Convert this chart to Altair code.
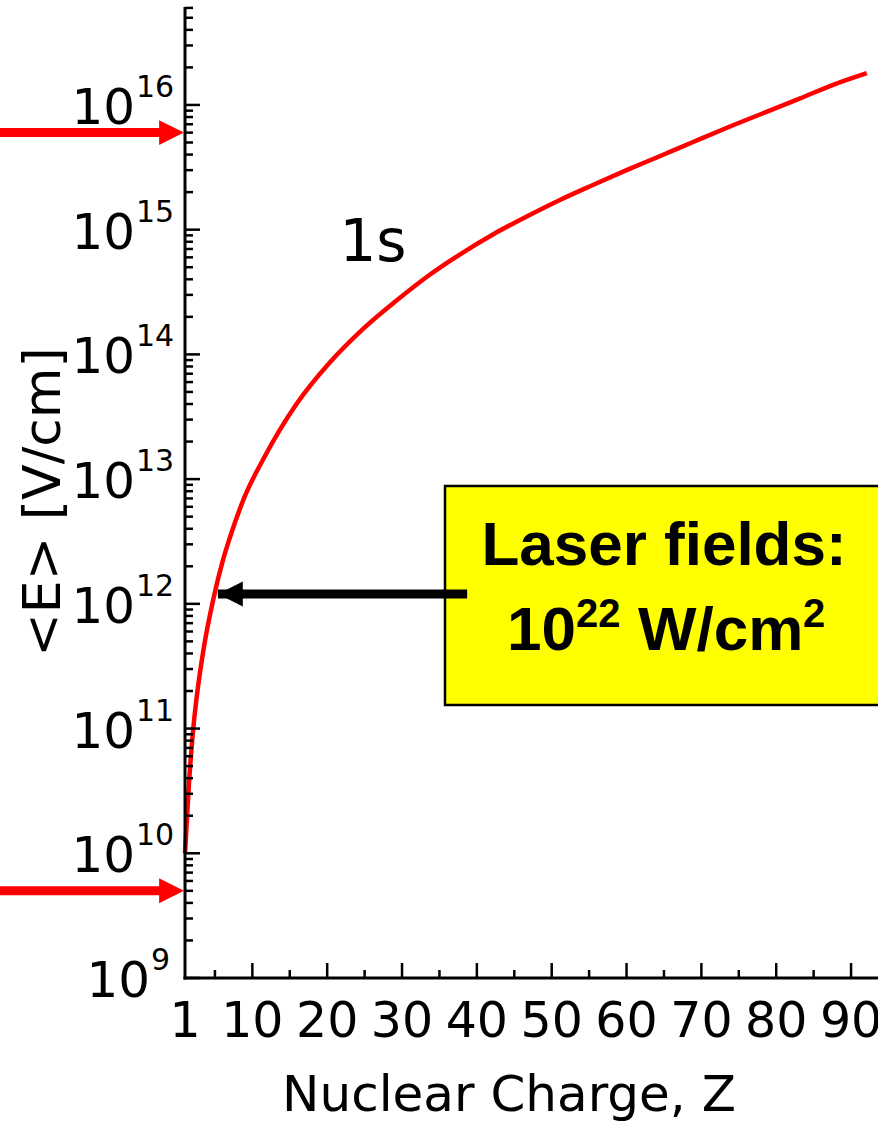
import altair as alt
import pandas as pd

# ---- data ----
Z_vals = [1, 1.5, 2.07, 2.52, 3.5, 4.74, 6.08, 7.0, 9.0, 11.47, 15.9, 20.35, 24.8,
          29.26, 33.7, 37.5, 42.2, 46.6, 51.1, 55.5, 60.0, 64.5, 68.9, 74.3, 78.7,
          83.2, 87.6, 92.1]
E_vals = [1.0e10, 3.4e10, 9.5e10, 1.7e11, 4.4e11, 1.06e12, 2.25e12, 3.4e12, 7.3e12,
          1.45e13, 4.0e13, 8.6e13, 1.6e14, 2.7e14, 4.35e14, 6.2e14, 9.2e14, 1.27e15,
          1.73e15, 2.28e15, 3.0e15, 3.9e15, 5.05e15, 6.9e15, 8.8e15, 1.13e16, 1.45e16,
          1.8e16]

y_major_vals = [1e9, 1e10, 1e11, 1e12, 1e13, 1e14, 1e15, 1e16]
y_major_exp = ["9", "10", "11", "12", "13", "14", "15", "16"]
y_minor_vals = [k * 10.0 ** n for n in range(9, 17) for k in range(2, 10) if k * 10.0 ** n <= 6.1e16]
x_major_vals = [10, 20, 30, 40, 50, 60, 70, 80, 90]
x_minor_vals = [5, 15, 25, 35, 45, 55, 65, 75, 85]
x_label_vals = [1, 10, 20, 30, 40, 50, 60, 70, 80, 90]
red_arrow_E = [6.0e15, 5.0e9]
laser_E = [1.2e12]
laser_Z_tip = [5.4]
laser_Z_tail = [38.7]

W, H = 693, 971
xs = alt.Scale(domain=[1, 93.6], nice=False, zero=False)
ys = alt.Scale(type="log", domain=[1e9, 6.1e16], nice=False)
FONT = "DejaVu Sans"
ARROW_LEFT = "M 0 0 L 2 -1 L 2 1 Z"
ARROW_RIGHT = "M 0 0 L -2 -1 L -2 1 Z"

curve_df = pd.DataFrame({"Z": Z_vals, "E": E_vals})
ymaj_df = pd.DataFrame({"E": y_major_vals, "exp": y_major_exp})
ymin_df = pd.DataFrame({"E": y_minor_vals})
xmaj_df = pd.DataFrame({"Z": x_major_vals})
xmin_df = pd.DataFrame({"Z": x_minor_vals})
xlab_df = pd.DataFrame({"Z": x_label_vals, "lab": [str(v) for v in x_label_vals]})
red_df = pd.DataFrame({"E": red_arrow_E})
laser_df = pd.DataFrame({"E": laser_E, "Z": laser_Z_tip, "Z2": laser_Z_tail})

X = lambda f: alt.X(f, type="quantitative", scale=xs, axis=None)
Y = lambda f: alt.Y(f, type="quantitative", scale=ys, axis=None)
one = pd.DataFrame({"a": [0]})

# yellow box
box = alt.Chart(one).mark_rect(
    fill="#ffff00", stroke="black", strokeWidth=2.5
).encode(x=alt.value(260), x2=alt.value(705), y=alt.value(479), y2=alt.value(698))

curve = alt.Chart(curve_df).mark_line(
    color="#ff0000", strokeWidth=4.5, interpolate="monotone"
).encode(x=X("Z"), y=Y("E"))

# axes lines
yaxis = alt.Chart(one).mark_rule(color="black", strokeWidth=3).encode(
    x=alt.value(0), y=alt.value(0), y2=alt.value(H + 1.5))
xaxis = alt.Chart(one).mark_rule(color="black", strokeWidth=3).encode(
    y=alt.value(H), x=alt.value(-1.5), x2=alt.value(W + 10))

ymaj = alt.Chart(ymaj_df).mark_rule(color="black", strokeWidth=2.5).encode(
    y=Y("E"), x=alt.value(0), x2=alt.value(15))
ymin = alt.Chart(ymin_df).mark_rule(color="black", strokeWidth=2.5).encode(
    y=Y("E"), x=alt.value(0), x2=alt.value(8))
xmaj = alt.Chart(xmaj_df).mark_rule(color="black", strokeWidth=2.5).encode(
    x=X("Z"), y=alt.value(H), y2=alt.value(H - 15))
xmin = alt.Chart(xmin_df).mark_rule(color="black", strokeWidth=2.5).encode(
    x=X("Z"), y=alt.value(H), y2=alt.value(H - 8))

# y tick labels: "10" + superscript exponent
ylab_base = alt.Chart(ymaj_df).transform_calculate(
    shift="length(datum.exp) == 1 ? 15 : 0",
    px10="-50 + datum.shift",
    pxexp="-49 + datum.shift",
    base="'10'",
)
ylab10 = ylab_base.mark_text(font=FONT, fontSize=50, align="right", baseline="alphabetic",
                             dy=19, color="black").encode(
    y=Y("E"), x=alt.X("px10:Q", scale=None), text="base:N")
ylabexp = ylab_base.mark_text(font=FONT, fontSize=30, align="left", baseline="alphabetic",
                              dy=-8, color="black").encode(
    y=Y("E"), x=alt.X("pxexp:Q", scale=None), text="exp:N")

xlab = alt.Chart(xlab_df).mark_text(font=FONT, fontSize=49, align="center",
                                    baseline="alphabetic", color="black").encode(
    x=X("Z"), y=alt.value(H + 59), text="lab:N")

xtitle = alt.Chart(pd.DataFrame({"t": ["Nuclear Charge, Z"]})).mark_text(
    font=FONT, fontSize=50, align="center", baseline="alphabetic", color="black"
).encode(x=alt.value(324), y=alt.value(1104), text="t:N")

ytitle = alt.Chart(pd.DataFrame({"t": ["<E>  [V/cm]"]})).mark_text(
    font=FONT, fontSize=52, align="center", baseline="alphabetic", angle=270, color="black"
).encode(x=alt.value(-125), y=alt.value(495), text="t:N")

label1s = alt.Chart(pd.DataFrame({"t": ["1s"]})).mark_text(
    font=FONT, fontSize=58, align="center", baseline="alphabetic", color="black"
).encode(x=alt.value(188), y=alt.value(254), text="t:N")

# red arrows (outside plot on the left)
red_shaft = alt.Chart(red_df).mark_rule(color="#ff0000", strokeWidth=9).encode(
    y=Y("E"), x=alt.value(-190), x2=alt.value(-20))
red_head = alt.Chart(red_df).mark_point(
    shape=ARROW_RIGHT, size=620, filled=True, color="#ff0000", opacity=1, strokeWidth=0
).encode(y=Y("E"), x=alt.value(-1))

# black arrow
blk_shaft = alt.Chart(laser_df).mark_rule(color="black", strokeWidth=9).encode(
    y=Y("E"), x=X("Z2"), x2=alt.X2("Z"))
blk_head = alt.Chart(laser_df).mark_point(
    shape=ARROW_LEFT, size=620, filled=True, color="black", opacity=1, strokeWidth=0
).encode(y=Y("E"), x=X("Z"))

# box text
BF = "Liberation Sans"
def txt(s, x, y, size, align="left"):
    return alt.Chart(pd.DataFrame({"t": [s]})).mark_text(
        font=BF, fontWeight="bold", fontSize=size, align=align, baseline="alphabetic",
        color="black").encode(x=alt.value(x), y=alt.value(y), text="t:N")

t1 = txt("Laser fields:", 479, 558, 62, "center")
t2 = txt("10", 322, 643, 62)
t3 = txt("22", 391, 620, 40)
t4 = txt("W/cm", 453, 643, 62)
t5 = txt("2", 618, 620, 40)

chart = alt.layer(
    box, blk_shaft, curve, blk_head, yaxis, xaxis, ymaj, ymin, xmaj, xmin,
    ylab10, ylabexp, xlab, xtitle, ytitle, label1s, red_shaft, red_head,
    t1, t2, t3, t4, t5
).properties(
    width=W, height=H,
    background="white",
    autosize=alt.AutoSizeParams(type="none"),
    padding={"left": 185, "top": 7, "right": 0, "bottom": 154},
).configure_view(strokeWidth=0, stroke="transparent")

chart.save("out.html", embed_options={"renderer": "svg", "actions": False})
